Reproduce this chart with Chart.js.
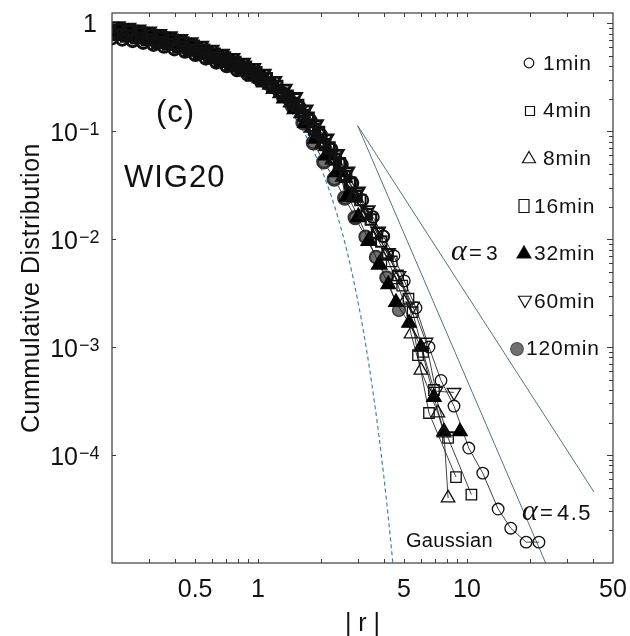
<!DOCTYPE html>
<html>
<head>
<meta charset="utf-8">
<script src="https://cdn.jsdelivr.net/npm/chart.js@4.4.1/dist/chart.umd.min.js"></script>
<style>
  html, body { margin: 0; padding: 0; background: #fff; }
  canvas { display: block; }
</style>
</head>
<body>
<canvas id="chart" width="630" height="636"></canvas>
<script>
// |r| (normalized returns) and cumulative distribution P(>|r|) for each sampling interval
const r1min = [0.20,0.224,0.251,0.282,0.316,0.355,0.398,0.447,0.501,0.562,0.631,0.708,0.794,0.891,1.0,1.12,1.26,1.41,1.58,1.78,2.0,2.24,2.51,2.82,3.16,3.55,3.98,4.47,5.01,5.7,6.58,7.51,8.67,10.2,11.9,14.1,16.2,19.2,22.1];
const p1min = [0.724,0.705,0.683,0.658,0.63,0.605,0.573,0.545,0.508,0.47,0.432,0.40,0.367,0.335,0.307,0.275,0.235,0.198,0.166,0.126,0.092,0.068,0.049,0.033,0.023,0.016,0.0106,0.0070,0.0041,0.0023,0.0010,0.00049,0.000284,0.000116,0.000068,0.0000316,0.000021,0.0000156,0.0000156];

const r4min = [0.209,0.235,0.263,0.295,0.331,0.372,0.417,0.468,0.525,0.589,0.661,0.741,0.832,0.933,1.047,1.175,1.318,1.479,1.66,1.862,2.089,2.344,2.63,2.951,3.311,3.715,4.169,4.677,5.248,5.83,6.58,8.86];
const p4min = [0.78,0.757,0.73,0.698,0.664,0.638,0.602,0.565,0.523,0.479,0.445,0.407,0.369,0.33,0.291,0.254,0.22,0.18,0.14,0.104,0.075,0.055,0.038,0.025,0.017,0.0113,0.0072,0.0046,0.0028,0.00084,0.000245,0.0000625];

const r8min = [0.205,0.229,0.257,0.288,0.324,0.363,0.407,0.457,0.513,0.575,0.646,0.724,0.813,0.912,1.023,1.148,1.288,1.445,1.622,1.82,2.042,2.291,2.57,2.884,3.236,3.631,4.074,4.571,5.0,5.4,6.02,7.26,7.76,8.12];
const p8min = [0.80,0.778,0.752,0.718,0.69,0.657,0.623,0.59,0.549,0.507,0.467,0.43,0.39,0.35,0.31,0.27,0.226,0.185,0.147,0.108,0.077,0.055,0.038,0.025,0.017,0.0112,0.0072,0.0042,0.0026,0.00132,0.00061,0.000245,0.00016,0.00004];

const r16min = [0.219,0.246,0.276,0.309,0.347,0.389,0.437,0.49,0.55,0.617,0.692,0.776,0.871,0.977,1.096,1.23,1.38,1.549,1.738,1.95,2.188,2.455,2.754,3.09,3.467,3.89,4.365,4.898,5.495,6.166,6.95,8.12,10.5];
const p16min = [0.87,0.844,0.806,0.771,0.734,0.697,0.656,0.612,0.562,0.517,0.475,0.432,0.391,0.348,0.306,0.259,0.211,0.173,0.132,0.097,0.070,0.050,0.033,0.023,0.0152,0.0095,0.0062,0.0037,0.0021,0.0009,0.0004,0.000144,0.000043];

const r32min = [0.214,0.24,0.269,0.302,0.339,0.38,0.427,0.479,0.537,0.603,0.676,0.759,0.851,0.955,1.072,1.202,1.349,1.514,1.698,1.905,2.138,2.399,2.692,3.02,3.388,3.802,4.2,4.57,5.28,6.02,6.95,7.76,9.26];
const p32min = [0.825,0.80,0.769,0.734,0.699,0.664,0.626,0.586,0.54,0.496,0.456,0.416,0.376,0.336,0.296,0.248,0.203,0.161,0.12,0.086,0.060,0.042,0.025,0.016,0.0096,0.0058,0.0038,0.0026,0.00167,0.0010,0.000344,0.000165,0.000165];

const r60min = [0.212,0.238,0.266,0.299,0.335,0.376,0.422,0.473,0.531,0.596,0.668,0.75,0.841,0.944,1.059,1.189,1.334,1.496,1.679,1.884,2.113,2.371,2.661,2.985,3.35,3.758,4.217,4.732,5.5,6.37,7.1,8.67];
const p60min = [0.93,0.90,0.867,0.829,0.789,0.75,0.707,0.662,0.613,0.562,0.517,0.472,0.426,0.382,0.337,0.289,0.245,0.205,0.157,0.115,0.085,0.061,0.042,0.0274,0.0185,0.0118,0.0075,0.0046,0.0024,0.00111,0.00039,0.00038];

const r120min = [0.207,0.232,0.26,0.292,0.327,0.367,0.412,0.462,0.519,0.582,0.653,0.733,0.822,0.923,1.035,1.161,1.303,1.462,1.641,1.841,2.065,2.317,2.6,2.917,3.273,3.673,4.121,4.72];
const p120min = [0.833,0.808,0.779,0.745,0.71,0.675,0.638,0.598,0.555,0.508,0.468,0.428,0.388,0.348,0.308,0.266,0.223,0.17,0.12,0.078,0.052,0.036,0.024,0.0158,0.0105,0.0068,0.0044,0.0022];

// Gaussian reference curve
const rGauss = [0.2,0.3,0.4,0.5,0.6,0.7,0.8,0.9,1.0,1.2,1.4,1.6,1.8,2.0,2.2,2.4,2.6,2.8,3.0,3.2,3.4,3.6,3.8,4.0,4.2,4.4,4.5];
const pGauss = [0.8415,0.7642,0.6892,0.6171,0.5485,0.4839,0.4237,0.3681,0.3173,0.2301,0.1615,0.1096,0.0719,0.0455,0.0278,0.0164,0.00932,0.00511,0.0027,0.00137,0.000674,0.000318,0.000145,0.0000633,0.0000267,0.0000108,0.0000068];

// power-law guide lines
const rAlpha3 = [3.0, 40.5];
const pAlpha3 = [0.112, 0.0000456];
const rAlpha45 = [3.0, 23.8];
const pAlpha45 = [0.112, 0.00001];

// axis ticks
const xTickValues = [0.5, 1, 5, 10, 50];
const xTickLabels = ['0.5', '1', '5', '10', '50'];
const yTickExponents = [0, -1, -2, -3, -4];

const SANS = '"Liberation Sans", Arial, Helvetica, sans-serif';
const SERIF = '"Liberation Serif", "Times New Roman", serif';
const INK = '#111';
const FRAME = '#3a3a3a';
const GUIDE = '#56707c';
const DASH = '#3f84ad';
const CLEAR = 'rgba(0,0,0,0)';

const pts = (xs, ys) => xs.map((x, i) => ({ x, y: ys[i] }));

// heavy outlines inside the crowded bulk, thinner ones out in the tail
const outline = ctx => {
  const x = ctx.raw ? ctx.raw.x : 10;
  if (x < 3.0) return 2.8;
  if (x < 4.2) return 2.0;
  return 1.3;
};

function series(label, xs, ys, style, radius, fill, stroke, rotation) {
  return {
    label,
    data: pts(xs, ys),
    showLine: true,
    borderColor: INK,
    borderWidth: 0.8,
    pointStyle: style,
    pointRadius: radius,
    pointHoverRadius: radius,
    pointBorderWidth: outline,
    pointBorderColor: stroke,
    pointBackgroundColor: fill,
    pointRotation: rotation || 0,
    clip: 0
  };
}

function guide(label, xs, ys, color, dash, width) {
  return {
    label,
    data: pts(xs, ys),
    showLine: true,
    borderColor: color,
    borderWidth: width,
    borderDash: dash,
    pointRadius: 0,
    pointHoverRadius: 0,
    cubicInterpolationMode: 'monotone',
    clip: 0
  };
}

const datasets = [
  series('1min', r1min, p1min, 'circle', 5.8, CLEAR, INK),
  series('4min', r4min, p4min, 'rect', 7.4, CLEAR, INK),
  series('8min', r8min, p8min, 'triangle', 7.8, CLEAR, INK),
  series('16min', r16min, p16min, 'rect', 7.4, CLEAR, INK),
  series('32min', r32min, p32min, 'triangle', 8.3, '#000', '#000'),
  series('60min', r60min, p60min, 'triangle', 7.8, CLEAR, INK, 180),
  series('120min', r120min, p120min, 'circle', 6.3, '#707070', '#333'),
  guide('Gaussian', rGauss, pGauss, DASH, [4, 3], 1.2),
  guide('α=3', rAlpha3, pAlpha3, GUIDE, [], 1),
  guide('α=4.5', rAlpha45, pAlpha45, GUIDE, [], 1)
];

// legend entries: marker placement and label position
const legendLayout = [
  { style: 'circle',   x: 529, y: 63,  r: 4.8, fill: null,      tx: 543, ty: 70 },
  { style: 'rect',     x: 530, y: 111, w: 9,  h: 9,  fill: null, tx: 543, ty: 117 },
  { style: 'triangle', x: 529, y: 159, r: 7.5, fill: null,      tx: 543, ty: 165 },
  { style: 'rect',     x: 524, y: 206, w: 10, h: 13, fill: null, tx: 534, ty: 213 },
  { style: 'triangle', x: 524, y: 254, r: 8,  fill: '#000',     tx: 534, ty: 260 },
  { style: 'triangleDown', x: 525, y: 300, r: 7.5, fill: null,  tx: 534, ty: 308 },
  { style: 'circle',   x: 517, y: 349, r: 6.3, fill: '#707070', tx: 526, ty: 355 }
];

function drawText(ctx, str, x, y, size, o) {
  o = o || {};
  ctx.save();
  ctx.font = (o.style ? o.style + ' ' : '') + size + 'px ' + (o.family || SANS);
  ctx.textAlign = o.align || 'left';
  ctx.textBaseline = 'alphabetic';
  ctx.letterSpacing = (o.spacing || 0) + 'px';
  ctx.fillStyle = o.color || INK;
  ctx.fillText(str, x, y);
  ctx.restore();
}

function legendMarker(ctx, m) {
  ctx.save();
  ctx.lineWidth = 1.2;
  ctx.strokeStyle = INK;
  ctx.fillStyle = m.fill || CLEAR;
  ctx.beginPath();
  if (m.style === 'circle') {
    ctx.arc(m.x, m.y, m.r, 0, Math.PI * 2);
  } else if (m.style === 'rect') {
    ctx.rect(m.x - m.w / 2, m.y - m.h / 2, m.w, m.h);
  } else {
    const s = m.style === 'triangle' ? 1 : -1;
    const h = m.r * 1.5, half = m.r * Math.sqrt(3) / 2;
    ctx.moveTo(m.x, m.y - s * m.r);
    ctx.lineTo(m.x + half, m.y - s * m.r + s * h);
    ctx.lineTo(m.x - half, m.y - s * m.r + s * h);
    ctx.closePath();
  }
  if (m.fill) {
    ctx.fill();
    if (m.fill !== '#000') ctx.strokeStyle = '#555';
  }
  ctx.stroke();
  ctx.restore();
}

const decorations = {
  id: 'decorations',
  afterDatasetsDraw(chart) {
    const { ctx, chartArea: a, scales } = chart;
    const xs = scales.x, ys = scales.y;

    // frame
    ctx.save();
    ctx.strokeStyle = FRAME;
    ctx.lineWidth = 1.2;
    ctx.strokeRect(a.left, a.top, a.right - a.left, a.bottom - a.top);

    // inward tick marks
    ctx.lineWidth = 1;
    ctx.beginPath();
    for (let e = -1; e <= 1; e++) {
      for (let m = 1; m <= 9; m++) {
        const v = m * Math.pow(10, e);
        if (v <= 0.2 || v >= 50) continue;
        const px = Math.round(xs.getPixelForValue(v)) + 0.5;
        ctx.moveTo(px, a.bottom); ctx.lineTo(px, a.bottom - 4);
        ctx.moveTo(px, a.top); ctx.lineTo(px, a.top + 4);
      }
    }
    for (let e = -5; e <= 0; e++) {
      for (let m = 1; m <= 9; m++) {
        const v = m * Math.pow(10, e);
        if (v <= 1e-5 || v >= 1.24) continue;
        const py = Math.round(ys.getPixelForValue(v)) + 0.5;
        const len = m === 1 ? 6 : 4;
        ctx.moveTo(a.right, py); ctx.lineTo(a.right - len, py);
        if (m === 1) { ctx.moveTo(a.left, py); ctx.lineTo(a.left + 4, py); }
      }
    }
    ctx.stroke();
    ctx.restore();

    // x tick labels
    xTickValues.forEach((v, i) => {
      drawText(ctx, xTickLabels[i], xs.getPixelForValue(v), a.bottom + 34, 25, { align: 'center' });
    });

    // y tick labels as powers of ten
    yTickExponents.forEach(e => {
      const py = ys.getPixelForValue(Math.pow(10, e));
      if (e === 0) {
        drawText(ctx, '1', 97, py + 9, 25, { align: 'right' });
      } else {
        drawText(ctx, '10', 78, py + 10, 25, { align: 'right' });
        drawText(ctx, '\u2212' + (-e), 79, py + 4, 18);
      }
    });

    // axis titles
    drawText(ctx, '| r |', (a.left + a.right) / 2, 631, 25, { align: 'center' });
    ctx.save();
    ctx.translate(39, 288);
    ctx.rotate(-Math.PI / 2);
    drawText(ctx, 'Cummulative Distribution', 0, 0, 25, { align: 'center', spacing: 0.5 });
    ctx.restore();

    // panel annotations
    drawText(ctx, '(c)', 156, 122, 31, { spacing: 1 });
    drawText(ctx, 'WIG20', 124, 187, 31, { spacing: 1 });
    drawText(ctx, 'Gaussian', 406, 547, 20, { spacing: 0.3 });

    drawText(ctx, '\u03b1', 451, 260, 30, { family: SERIF, style: 'italic' });
    drawText(ctx, '=', 469, 260, 22);
    drawText(ctx, '3', 486, 260, 21);

    drawText(ctx, '\u03b1', 522, 520, 30, { family: SERIF, style: 'italic' });
    drawText(ctx, '=', 540, 520, 22);
    drawText(ctx, '4.5', 557, 520, 22, { spacing: 1.5 });

    // legend
    chart.data.datasets.slice(0, legendLayout.length).forEach((ds, i) => {
      const m = legendLayout[i];
      legendMarker(ctx, m);
      drawText(ctx, ds.label, m.tx, m.ty, 21, { spacing: 0.8 });
    });
  }
};

new Chart(document.getElementById('chart'), {
  type: 'scatter',
  data: { datasets },
  options: {
    responsive: false,
    animation: false,
    devicePixelRatio: 1,
    layout: { padding: { left: 112, right: 17, top: 13, bottom: 73 } },
    elements: { line: { tension: 0 } },
    scales: {
      x: { type: 'logarithmic', min: 0.2, max: 50, display: false },
      y: { type: 'logarithmic', min: 1e-5, max: 1.24, display: false }
    },
    plugins: {
      legend: { display: false },
      tooltip: { enabled: false }
    }
  },
  plugins: [decorations]
});
</script>
</body>
</html>
